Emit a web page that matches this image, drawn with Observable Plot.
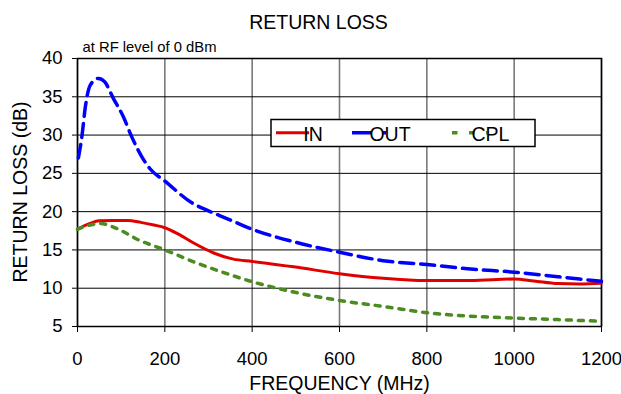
<!DOCTYPE html>
<html>
<head>
<meta charset="utf-8">
<script src="https://cdn.jsdelivr.net/npm/d3@7"></script>
<script src="https://cdn.jsdelivr.net/npm/@observablehq/plot@0.6"></script>
<style>
  html, body { margin: 0; padding: 0; background: white; }
  #chart { width: 621px; height: 394px; overflow: hidden; }
</style>
</head>
<body>
<div id="chart"></div>
<script>
// ---- Data ----
const chartTitle = "RETURN LOSS";
const chartSubtitle = "at RF level of 0 dBm";
const xLabel = "FREQUENCY (MHz)";
const yLabel = "RETURN LOSS (dB)";
const xTicks = [0, 200, 400, 600, 800, 1000, 1200];
const yTicks = [5, 10, 15, 20, 25, 30, 35, 40];
const seriesNames = ["IN", "OUT", "CPL"];

const freqIn = [0, 30, 50, 80, 115, 145, 175, 200, 230, 266, 312, 357, 400, 495, 600, 700, 800, 900, 1000, 1045, 1100, 1150, 1200];
const lossIn = [17.7, 18.5, 18.8, 18.85, 18.85, 18.6, 18.25, 17.9, 17.1, 15.9, 14.6, 13.8, 13.5, 12.8, 11.9, 11.3, 11.0, 11.0, 11.2, 10.95, 10.6, 10.55, 10.65];

const freqOut = [2, 10, 18, 29, 48, 63, 82, 105, 124, 147, 166, 200, 266, 300, 342, 400, 500, 600, 700, 800, 900, 1000, 1100, 1200];
const lossOut = [27.0, 29.8, 33.7, 36.5, 37.4, 36.9, 34.8, 32.4, 29.8, 27.2, 25.6, 24.0, 21.0, 20.1, 19.1, 17.7, 16.0, 14.7, 13.6, 13.1, 12.5, 12.1, 11.5, 10.9];

const freqCpl = [0, 25, 52, 90, 140, 200, 266, 342, 403, 495, 600, 709, 800, 900, 1000, 1100, 1190];
const lossCpl = [17.7, 18.2, 18.45, 17.8, 16.3, 15.0, 13.45, 11.9, 10.8, 9.5, 8.4, 7.55, 6.8, 6.35, 6.1, 5.9, 5.7];

const colors = {IN: "#e00000", OUT: "#0000ff", CPL: "#4b8b1f"};

const toRows = (fs, vs) => fs.map((f, i) => ({f, v: vs[i]}));
const rowsIn = toRows(freqIn, lossIn);
const rowsOut = toRows(freqOut, lossOut);
const rowsCpl = toRows(freqCpl, lossCpl);

const font = "'Liberation Sans', Arial, Helvetica, sans-serif";

const chart = Plot.plot({
  width: 621,
  height: 394,
  marginLeft: 77,
  marginRight: 20,
  marginTop: 58,
  marginBottom: 68,
  style: {fontFamily: font, fontSize: "18.5px", background: "white", color: "black", overflow: "visible"},
  x: {domain: [0, 1200], ticks: xTicks, tickSize: 6, tickPadding: 19, label: null, tickFormat: d => String(d)},
  y: {domain: [5, 40], ticks: yTicks, tickSize: 5, tickPadding: 10, label: null, tickFormat: d => String(d)},
  marks: [
    Plot.gridX(xTicks, {stroke: "#7a7a7a", strokeOpacity: 1, strokeWidth: 1.6}),
    Plot.gridY(yTicks, {stroke: "#000", strokeOpacity: 1, strokeWidth: 1}),
    Plot.frame({stroke: "#000", strokeWidth: 1.5}),
    Plot.line(rowsIn, {x: "f", y: "v", stroke: colors.IN, strokeWidth: 3, curve: "monotone-x"}),
    Plot.line(rowsOut, {x: "f", y: "v", stroke: colors.OUT, strokeWidth: 3.5, strokeDasharray: "14,7", curve: "monotone-x"}),
    Plot.line(rowsCpl, {x: "f", y: "v", stroke: colors.CPL, strokeWidth: 3.5, strokeDasharray: "5,7", curve: "monotone-x"}),
    Plot.text([chartTitle], {frameAnchor: "top", lineAnchor: "bottom", dx: -21, dy: -30, fontSize: 19.5, fill: "#000"}),
    Plot.text([chartSubtitle], {frameAnchor: "top-left", textAnchor: "start", lineAnchor: "bottom", dx: 5, dy: -7, fontSize: 14.8, fill: "#000"}),
    Plot.text([xLabel], {frameAnchor: "bottom", lineAnchor: "bottom", dy: 63, fontSize: 19.5, fill: "#000"})
  ]
});

document.getElementById("chart").appendChild(chart);

const svg = d3.select(chart);

// ---- Y axis title (rotated) ----
svg.append("text")
  .attr("transform", "translate(26.5,192) rotate(-90)")
  .attr("text-anchor", "middle")
  .attr("font-family", font)
  .attr("font-size", 19.5)
  .attr("fill", "#000")
  .text(yLabel);

// ---- Legend box (drawn into the same SVG) ----
const lg = svg.append("g").attr("font-family", font).attr("font-size", 19.5);
lg.append("rect").attr("x", 271).attr("y", 119.5).attr("width", 264).attr("height", 27)
  .attr("fill", "white").attr("stroke", "#000").attr("stroke-width", 1.5);
const legendItems = [
  {name: seriesNames[0], x1: 276, x2: 309, tx: 313, dash: null, w: 3},
  {name: seriesNames[1], x1: 352, x2: 387, tx: 390, dash: "19,11,4,40", w: 3.5},
  {name: seriesNames[2], x1: 452, x2: 487, tx: 490.5, dash: "5.5,11.5", w: 3.5}
];
for (const it of legendItems) {
  const ln = lg.append("line").attr("x1", it.x1).attr("x2", it.x2).attr("y1", 132.8).attr("y2", 132.8)
    .attr("stroke", colors[it.name]).attr("stroke-width", it.w);
  if (it.dash) ln.attr("stroke-dasharray", it.dash);
  lg.append("text").attr("x", it.tx).attr("y", 140.5).attr("fill", "#000").text(it.name);
}
</script>
</body>
</html>
